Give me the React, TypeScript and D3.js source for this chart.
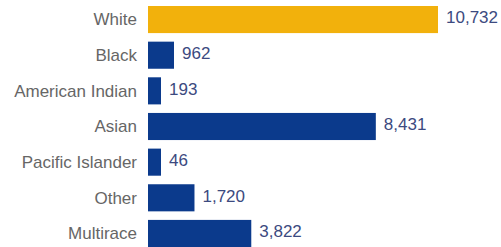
import React, { useEffect, useRef } from 'react';
import * as d3 from 'd3';

const categories = ['White', 'Black', 'American Indian', 'Asian', 'Pacific Islander', 'Other', 'Multirace'];
const counts = [10732, 962, 193, 8431, 46, 1720, 3822];
const highlight = 'White';

const App = () => {
  const svgRef = useRef<SVGSVGElement | null>(null);

  useEffect(() => {
    const svg = d3.select(svgRef.current);
    const width = 501;
    const height = 247;
    const margin = { top: 6, right: 63, bottom: 0, left: 148 };
    const innerWidth = width - margin.left - margin.right;
    const innerHeight = height - margin.top - margin.bottom;
    const minBar = 13; // tiny values still get a visible bar

    svg.selectAll('*').remove();

    const data = categories.map((c, i) => ({ name: c, value: counts[i] }));

    const x = d3.scaleLinear().domain([0, d3.max(counts) as number]).range([0, innerWidth]);
    const y = d3.scaleBand().domain(categories).range([0, innerHeight]).paddingInner(0.24).paddingOuter(0);
    const barW = (v: number) => Math.max(x(v), minBar);

    const g = svg.append('g').attr('transform', `translate(${margin.left},${margin.top})`);

    // bars
    g.selectAll('rect.bar')
      .data(data)
      .enter()
      .append('rect')
      .attr('class', 'bar')
      .attr('x', 0)
      .attr('y', d => y(d.name) as number)
      .attr('width', d => barW(d.value))
      .attr('height', y.bandwidth())
      .attr('fill', d => (d.name === highlight ? '#f2b10c' : '#0b3a8c'));

    // category labels
    g.selectAll('text.cat')
      .data(data)
      .enter()
      .append('text')
      .attr('class', 'cat')
      .attr('x', -11)
      .attr('y', d => (y(d.name) as number) + y.bandwidth() / 2)
      .attr('dy', '0.35em')
      .attr('text-anchor', 'end')
      .attr('fill', '#666666')
      .style('font-family', '"Liberation Sans", Arial, sans-serif')
      .style('font-size', '17px')
      .text(d => d.name);

    // value labels
    g.selectAll('text.val')
      .data(data)
      .enter()
      .append('text')
      .attr('class', 'val')
      .attr('x', d => barW(d.value) + 8)
      .attr('y', d => (y(d.name) as number) + y.bandwidth() / 2 - 2)
      .attr('dy', '0.35em')
      .attr('fill', '#3c4a80')
      .style('font-family', '"Liberation Sans", Arial, sans-serif')
      .style('font-size', '17px')
      .text(d => d3.format(',')(d.value));
  }, []);

  return (
    <svg
      ref={svgRef}
      width={501}
      height={247}
      style={{ position: 'absolute', left: 0, top: 0, background: '#fff' }}
    ></svg>
  );
};

export default App;
